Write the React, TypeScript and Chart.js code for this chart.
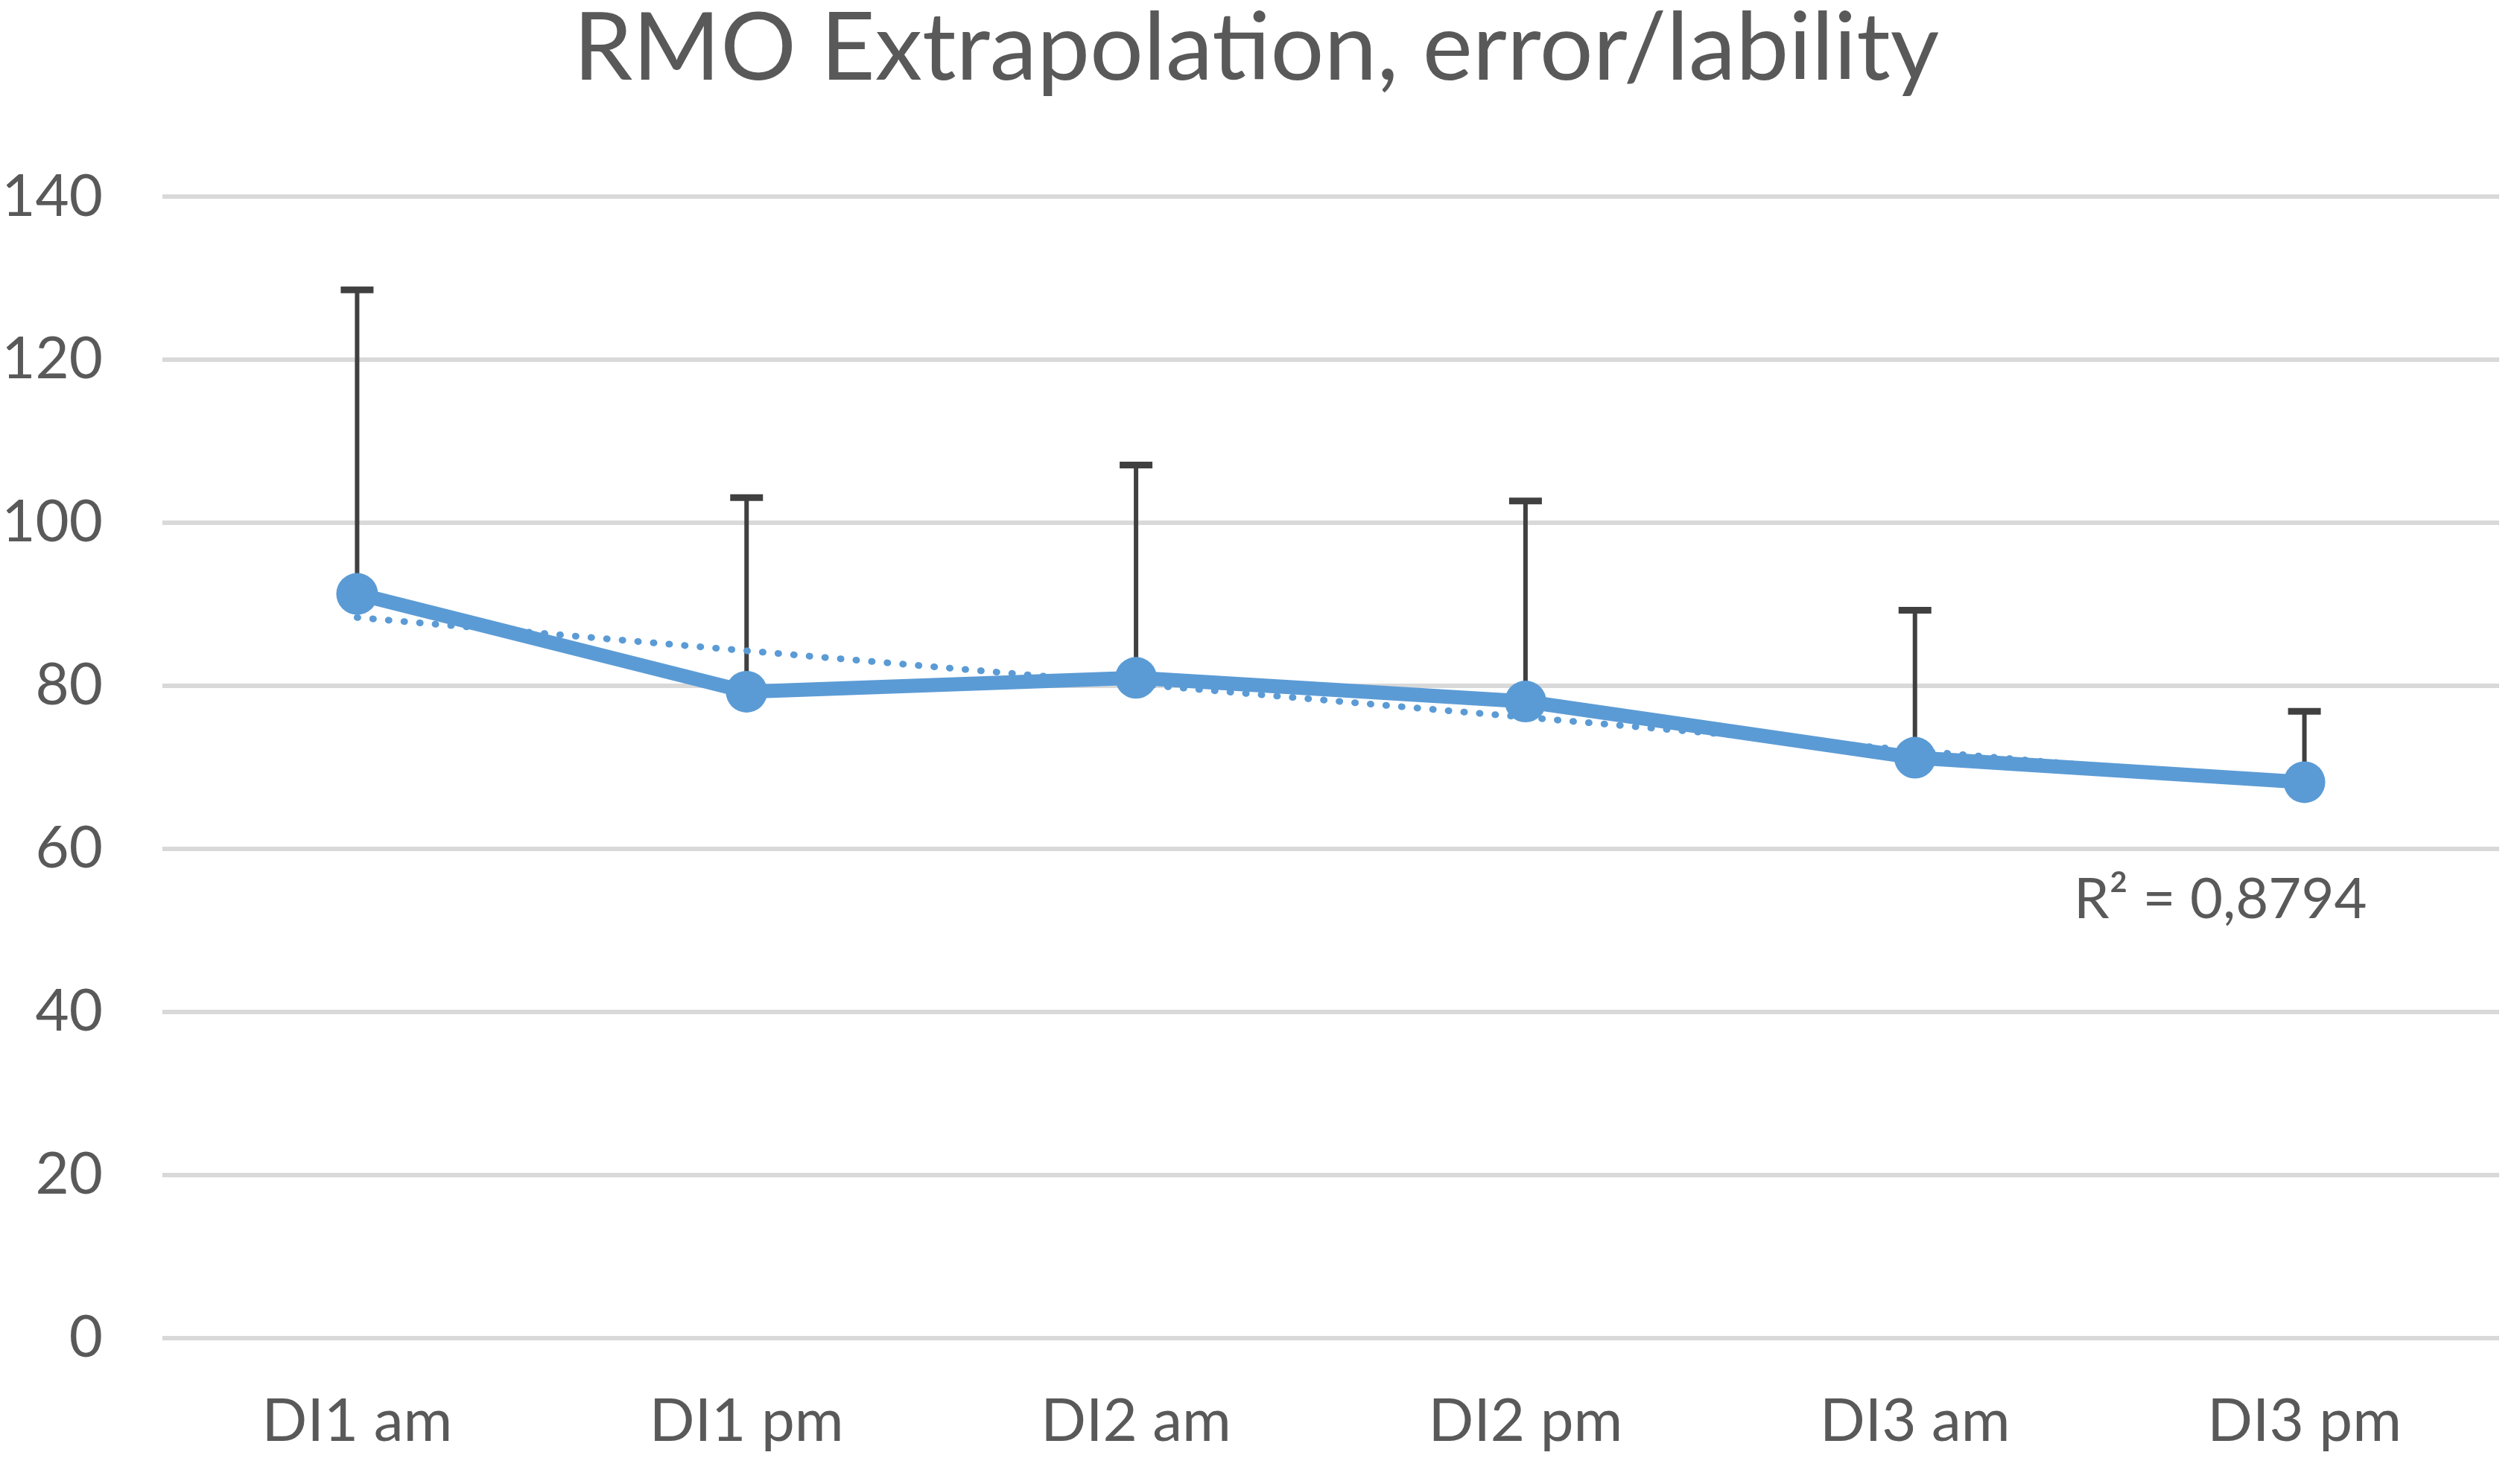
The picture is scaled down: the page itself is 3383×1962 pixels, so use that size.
import { useEffect, useRef } from 'react';
import { Chart, registerables } from 'chart.js';

Chart.register(...registerables);

// values
const labels = ['DI1 am', 'DI1 pm', 'DI2 am', 'DI2 pm', 'DI3 am', 'DI3 pm'];
const means = [91.3, 79.3, 81.0, 78.1, 71.2, 68.2];
const errPlus = [37.3, 23.8, 26.1, 24.6, 18.1, 8.7];
// linear trendline end points (Excel trendline)
const trend = [88.4, null, null, null, null, 68.0];
const yTicks = [0, 20, 40, 60, 80, 100, 120, 140];
const rSquared = 'R² = 0,8794';

const BLUE = '#5B9BD5';
const TEXT = '#595959';
const FONT = 'Lato, "Open Sans", sans-serif';

// upper error bars, drawn behind the line
const errorBars = {
  id: 'errorBars',
  beforeDatasetsDraw(chart: any) {
    const { ctx } = chart;
    const meta = chart.getDatasetMeta(0);
    const y = chart.scales.y;
    ctx.save();
    ctx.strokeStyle = '#404040';
    meta.data.forEach((pt: any, i: number) => {
      const x = pt.x;
      const y0 = y.getPixelForValue(means[i]);
      const y1 = y.getPixelForValue(means[i] + errPlus[i]);
      ctx.lineWidth = 6;
      ctx.beginPath();
      ctx.moveTo(x, y0);
      ctx.lineTo(x, y1);
      ctx.stroke();
      ctx.lineWidth = 9;
      ctx.beginPath();
      ctx.moveTo(x - 22, y1);
      ctx.lineTo(x + 22, y1);
      ctx.stroke();
    });
    ctx.restore();
  },
};

// R² label near the end of the trendline
const trendLabel = {
  id: 'trendLabel',
  afterDatasetsDraw(chart: any) {
    const { ctx } = chart;
    const x = chart.scales.x.getPixelForValue(labels.length - 1);
    const yPix = chart.scales.y.getPixelForValue(53.8);
    ctx.save();
    ctx.fillStyle = TEXT;
    ctx.font = `76px ${FONT}`;
    ctx.textAlign = 'right';
    ctx.textBaseline = 'middle';
    ctx.fillText(rSquared, x + 84, yPix);
    ctx.restore();
  },
};

export default function App() {
  const canvasRef = useRef<HTMLCanvasElement | null>(null);
  const chartRef = useRef<Chart | null>(null);

  useEffect(() => {
    document.documentElement.style.overflow = 'hidden';
    document.body.style.margin = '0';
    if (!canvasRef.current) return;
    if (chartRef.current) chartRef.current.destroy();
    const ctx = canvasRef.current.getContext('2d');
    if (!ctx) return;

    chartRef.current = new Chart(ctx, {
      type: 'line',
      data: {
        labels,
        datasets: [
          {
            label: 'RMO',
            data: means,
            borderColor: BLUE,
            backgroundColor: BLUE,
            borderWidth: 19,
            pointRadius: 28,
            pointBackgroundColor: BLUE,
            pointBorderWidth: 0,
            tension: 0,
          },
          {
            label: 'Linear',
            data: trend,
            spanGaps: true,
            borderColor: BLUE,
            borderWidth: 9,
            borderDash: [1, 20],
            borderCapStyle: 'round',
            pointRadius: 0,
          },
        ],
      },
      plugins: [errorBars, trendLabel],
      options: {
        responsive: true,
        maintainAspectRatio: false,
        animation: false,
        layout: { padding: { left: 0, right: 10, top: 0, bottom: 0 } },
        plugins: {
          legend: { display: false },
          tooltip: { enabled: false },
          title: {
            display: true,
            text: 'RMO Extrapolation, error/lability',
            color: TEXT,
            font: { family: FONT, size: 127, weight: 'normal' },
            padding: { top: -10, bottom: 122 },
          },
        },
        scales: {
          x: {
            offset: true,
            grid: { display: false, drawTicks: false },
            border: { display: false },
            ticks: {
              color: TEXT,
              font: { family: FONT, size: 80 },
              padding: 64,
              maxRotation: 0,
              autoSkip: false,
            },
            afterFit: (axis: any) => {
              axis.height = 165;
            },
          },
          y: {
            min: 0,
            max: 140,
            afterBuildTicks: (axis: any) => {
              axis.ticks = yTicks.map((v) => ({ value: v }));
            },
            afterFit: (axis: any) => {
              axis.width = 218;
            },
            grid: { color: '#D9D9D9', lineWidth: 6, drawTicks: false },
            border: { display: false },
            ticks: {
              color: TEXT,
              font: { family: FONT, size: 78 },
              padding: 80,
            },
          },
        },
      },
    });

    return () => {
      if (chartRef.current) {
        chartRef.current.destroy();
        chartRef.current = null;
      }
    };
  }, []);

  return (
    <div style={{ position: 'fixed', left: 0, top: 0, width: 3383, height: 1962, background: '#fff' }}>
      <canvas ref={canvasRef} />
    </div>
  );
}
